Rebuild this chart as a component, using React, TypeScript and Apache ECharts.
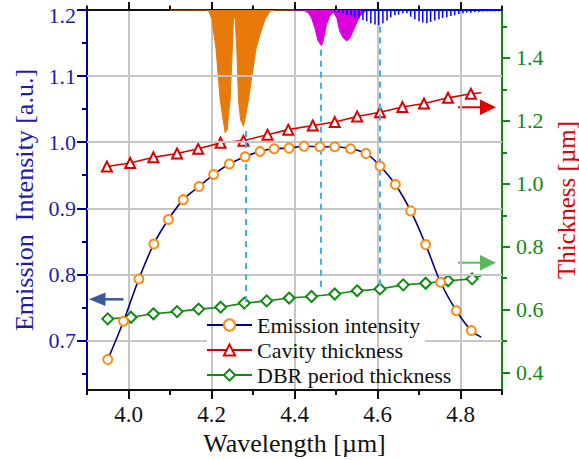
import React, { useEffect, useRef } from "react";
import * as echarts from "echarts";

const FONT = "'Liberation Serif', 'Times New Roman', serif";

// Axis ranges and tick positions
const waveRange = [3.9, 4.9];
const intensityRange = [0.625, 1.2];
const thicknessRange = [0.345, 1.552];
const xMajorTicks = [4.0, 4.2, 4.4, 4.6, 4.8];
const xMinorTicks = [3.9, 4.1, 4.3, 4.5, 4.7, 4.9];
const intensityTicks = [0.7, 0.8, 0.9, 1.0, 1.1, 1.2];
const intensityMinorTicks = [0.65, 0.75, 0.85, 0.95, 1.05, 1.15];
const thicknessTicks = [0.4, 0.6, 0.8, 1.0, 1.2, 1.4];
const thicknessMinorTicks = [0.5, 0.7, 0.9, 1.1, 1.3, 1.5];

// Horizontal grid levels on the intensity axis
const gridLevels = [0.8, 0.9, 1.0, 1.1];
const gridLevelLegend = 0.7;
const gridLegendGap = [4.189, 4.714];

// Emission intensity vs wavelength [µm, a.u.]
const emission: number[][] = [
  [3.95, 0.671], [3.988, 0.729], [4.025, 0.793], [4.061, 0.846], [4.096, 0.883],
  [4.132, 0.913], [4.17, 0.933], [4.205, 0.951], [4.243, 0.967], [4.281, 0.978],
  [4.317, 0.986], [4.351, 0.99], [4.387, 0.991], [4.423, 0.994], [4.461, 0.993],
  [4.497, 0.993], [4.535, 0.99], [4.572, 0.983], [4.606, 0.964], [4.643, 0.936],
  [4.68, 0.896], [4.716, 0.845], [4.752, 0.788], [4.79, 0.745], [4.826, 0.715],
];
const emissionTail = [4.85, 0.705];

// Cavity thickness vs wavelength [µm, µm]
const cavity: number[][] = [
  [3.948, 1.055], [4.004, 1.066], [4.06, 1.084], [4.117, 1.096], [4.168, 1.111],
  [4.222, 1.13], [4.277, 1.137], [4.335, 1.156], [4.385, 1.172], [4.444, 1.185],
  [4.497, 1.196], [4.551, 1.214], [4.606, 1.227], [4.66, 1.244], [4.712, 1.255],
  [4.77, 1.273], [4.825, 1.286],
];
const cavityTail = [4.85, 1.289];

// DBR period thickness vs wavelength [µm, µm]
const dbr: number[][] = [
  [3.95, 0.571], [4.006, 0.576], [4.06, 0.587], [4.117, 0.594], [4.169, 0.602],
  [4.222, 0.608], [4.279, 0.621], [4.333, 0.628], [4.387, 0.637], [4.441, 0.642],
  [4.497, 0.65], [4.551, 0.66], [4.606, 0.666], [4.662, 0.679], [4.716, 0.684],
  [4.77, 0.692], [4.828, 0.698],
];
const dbrTail = [4.85, 0.708];

// Spectra hanging from the top of the intensity axis
const orangeSpectrum: number[][] = [
  [4.1, 1.2], [4.185, 1.2], [4.193, 1.199], [4.201, 1.186], [4.211, 1.14],
  [4.221, 1.064], [4.228, 1.034], [4.233, 1.014], [4.238, 1.019], [4.242, 1.049],
  [4.245, 1.064], [4.25, 1.14], [4.253, 1.186], [4.254, 1.193], [4.257, 1.186],
  [4.261, 1.14], [4.265, 1.064], [4.27, 1.034], [4.277, 1.024], [4.283, 1.042],
  [4.289, 1.064], [4.298, 1.102], [4.307, 1.14], [4.317, 1.163], [4.329, 1.186],
  [4.341, 1.198], [4.355, 1.2], [4.4, 1.2],
];
const magentaSpectrum: number[][] = [
  [4.39, 1.2], [4.421, 1.2], [4.433, 1.196], [4.441, 1.188], [4.449, 1.173],
  [4.457, 1.153], [4.465, 1.146], [4.469, 1.153], [4.477, 1.178], [4.485, 1.191],
  [4.493, 1.197], [4.502, 1.188], [4.509, 1.168], [4.517, 1.158], [4.526, 1.153],
  [4.534, 1.158], [4.541, 1.168], [4.55, 1.181], [4.558, 1.191], [4.57, 1.198],
  [4.582, 1.2], [4.6, 1.2],
];
const blueComb: number[][] = [
  [4.497, 1.197], [4.507, 1.196], [4.517, 1.195], [4.526, 1.193], [4.536, 1.192],
  [4.545, 1.189], [4.555, 1.187], [4.565, 1.185], [4.574, 1.183], [4.584, 1.18],
  [4.594, 1.178], [4.603, 1.177], [4.613, 1.18], [4.623, 1.184], [4.632, 1.189],
  [4.642, 1.192], [4.651, 1.193], [4.661, 1.195], [4.671, 1.195], [4.68, 1.19],
  [4.69, 1.186], [4.7, 1.183], [4.709, 1.181], [4.719, 1.18], [4.728, 1.182],
  [4.738, 1.184], [4.748, 1.186], [4.757, 1.188], [4.767, 1.189], [4.777, 1.191],
  [4.786, 1.192], [4.796, 1.194], [4.806, 1.195], [4.815, 1.196], [4.825, 1.196],
  [4.834, 1.197], [4.844, 1.197], [4.853, 1.198], [4.863, 1.198], [4.873, 1.198],
  [4.882, 1.198], [4.892, 1.198],
];
const blueBase = [[4.56, 1.2], [4.9, 1.2]];

// Guide lines linking spectral dips to the curves (wavelength, top, bottom)
const guideX = [4.283, 4.464, 4.606];
const guideTop = [1.017, 1.14, 1.175];
const guideBottom = [0.749, 0.781, 0.778];

const seriesNames = ["Emission intensity", "Cavity thickness", "DBR period thickness"];

const C_NAVY = "#000080";
const C_ORANGE = "#ff8a10";
const C_RED = "#e00000";
const C_GREEN = "#108a10";
const C_LEFT = "#0000a0";
const C_LEFT_TEXT = "#1c1cae";
const C_GRID = "#c6c6c6";

function tickAxis(position: string, ticks: number[], length: number, range: number[], extra: any = {}) {
  return {
    type: "value",
    position,
    min: range[0],
    max: range[1],
    axisLine: { show: false, onZero: false },
    axisTick: { show: true, customValues: ticks, length, lineStyle: { width: 2, color: "#111" } },
    axisLabel: { show: false },
    splitLine: { show: false },
    ...extra,
  };
}

export default function App() {
  const ref = useRef<HTMLDivElement>(null);

  useEffect(() => {
    document.body.style.margin = "0";
    if (!ref.current) return;
    const chart = echarts.init(ref.current, null, { renderer: "svg" });

    const fmt = (v: number) => v.toFixed(1);
    // the top label sits a little below its tick so it stays inside the frame
    const fmtIntensity = (v: number) =>
      v >= intensityRange[1] - 1e-9 ? `{top|${v.toFixed(1)}}` : v.toFixed(1);

    const option: any = {
      animation: false,
      backgroundColor: "#ffffff",
      grid: { left: 87, right: 77, top: 10, bottom: 70, containLabel: false, outerBoundsMode: "none" },
      legend: {
        data: seriesNames,
        orient: "vertical",
        left: 206,
        top: 314,
        padding: 0,
        itemGap: 3,
        itemWidth: 45,
        itemHeight: 14,
        selectedMode: false,
        textStyle: { fontFamily: FONT, fontSize: 22, color: "#111", lineHeight: 22 },
      },
      xAxis: [
        {
          type: "value",
          position: "bottom",
          min: waveRange[0],
          max: waveRange[1],
          axisLine: { show: true, onZero: false, lineStyle: { color: "#111", width: 2 } },
          axisTick: { show: true, customValues: xMajorTicks, length: 9, lineStyle: { color: "#111", width: 2 } },
          axisLabel: {
            show: true,
            customValues: xMajorTicks,
            formatter: fmt,
            color: "#111",
            fontFamily: FONT,
            fontSize: 23,
            margin: 13,
          },
          splitLine: { show: true, lineStyle: { color: C_GRID, width: 2 } },
          name: "Wavelength [µm]",
          nameLocation: "middle",
          nameGap: 38,
          nameTextStyle: { fontFamily: FONT, fontSize: 26, color: "#111" },
        },
        tickAxis("bottom", xMinorTicks, 5, waveRange),
        tickAxis("top", xMajorTicks, 8, waveRange, {
          axisLine: { show: true, onZero: false, lineStyle: { color: "#111", width: 2 } },
        }),
        tickAxis("top", xMinorTicks, 4.5, waveRange),
      ],
      yAxis: [
        {
          type: "value",
          position: "left",
          min: intensityRange[0],
          max: intensityRange[1],
          axisLine: { show: true, onZero: false, lineStyle: { color: C_LEFT, width: 2 } },
          axisTick: { show: true, customValues: intensityTicks, length: 10, lineStyle: { color: C_LEFT, width: 2 } },
          axisLabel: {
            show: true,
            customValues: intensityTicks,
            formatter: fmtIntensity,
            color: C_LEFT_TEXT,
            fontFamily: FONT,
            fontSize: 22,
            margin: 11,
            rich: {
              top: { color: C_LEFT_TEXT, fontFamily: FONT, fontSize: 22, padding: [10, 0, 0, 0] },
            },
          },
          splitLine: { show: false },
          name: "Emission  Intensity [a.u.]",
          nameLocation: "middle",
          nameRotate: 90,
          nameGap: 50,
          nameTextStyle: { fontFamily: FONT, fontSize: 26, color: C_LEFT_TEXT },
        },
        tickAxis("left", intensityMinorTicks, 5, intensityRange, {
          axisTick: { show: true, customValues: intensityMinorTicks, length: 5, lineStyle: { width: 2, color: C_LEFT } },
        }),
        {
          type: "value",
          position: "right",
          min: thicknessRange[0],
          max: thicknessRange[1],
          axisLine: { show: true, onZero: false, lineStyle: { color: C_GREEN, width: 2 } },
          axisTick: { show: true, customValues: thicknessTicks, length: 8, lineStyle: { color: C_GREEN, width: 2 } },
          axisLabel: {
            show: true,
            customValues: thicknessTicks,
            formatter: fmt,
            color: C_GREEN,
            fontFamily: FONT,
            fontSize: 22,
            margin: 14,
          },
          splitLine: { show: false },
          name: "Thickness [µm]",
          nameLocation: "middle",
          nameRotate: 90,
          nameGap: 44,
          nameTextStyle: { fontFamily: FONT, fontSize: 25, color: C_RED },
        },
        tickAxis("right", thicknessMinorTicks, 5, thicknessRange, {
          axisTick: { show: true, customValues: thicknessMinorTicks, length: 5, lineStyle: { width: 2, color: C_GREEN } },
        }),
      ],
      graphic: [
        // arrow pointing to the intensity axis
        { type: "line", shape: { x1: 104, y1: 299.3, x2: 123.5, y2: 299.3 }, style: { stroke: "#3a5a9c", lineWidth: 2.5 } },
        { type: "polygon", shape: { points: [[89, 299.3], [105.5, 292.5], [105.5, 306]] }, style: { fill: "#3a5a9c" } },
        // arrows pointing to the thickness axis
        { type: "line", shape: { x1: 458, y1: 107.3, x2: 482, y2: 107.3 }, style: { stroke: C_RED, lineWidth: 2 } },
        { type: "polygon", shape: { points: [[496, 107.3], [480, 99.5], [480, 115]] }, style: { fill: C_RED } },
        { type: "line", shape: { x1: 458, y1: 262.7, x2: 482, y2: 262.7 }, style: { stroke: "#5cb85c", lineWidth: 2 } },
        { type: "polygon", shape: { points: [[496, 262.7], [480, 255], [480, 270.5]] }, style: { fill: "#5cb85c" } },
      ],
      series: [
        {
          // horizontal grid lines
          type: "line",
          data: [],
          z: 1,
          silent: true,
          xAxisIndex: 0,
          yAxisIndex: 0,
          markLine: {
            silent: true,
            symbol: ["none", "none"],
            label: { show: false },
            lineStyle: { color: C_GRID, width: 2, type: "solid" },
            data: [
              ...gridLevels.map((v) => [{ coord: [waveRange[0], v] }, { coord: [waveRange[1], v] }]),
              [{ coord: [waveRange[0], gridLevelLegend] }, { coord: [gridLegendGap[0], gridLevelLegend] }],
              [{ coord: [gridLegendGap[1], gridLevelLegend] }, { coord: [waveRange[1], gridLevelLegend] }],
            ],
          },
        },
        {
          type: "line",
          data: orangeSpectrum,
          xAxisIndex: 0,
          yAxisIndex: 0,
          symbol: "none",
          silent: true,
          z: 2,
          lineStyle: { color: "#e87a0c", width: 1 },
          areaStyle: { origin: "end", color: "#e87a0c", opacity: 1 },
        },
        {
          type: "line",
          data: magentaSpectrum,
          xAxisIndex: 0,
          yAxisIndex: 0,
          symbol: "none",
          silent: true,
          z: 2,
          lineStyle: { color: "#dd00dd", width: 1 },
          areaStyle: { origin: "end", color: "#dd00dd", opacity: 1 },
        },
        {
          type: "line",
          data: blueBase,
          xAxisIndex: 0,
          yAxisIndex: 0,
          symbol: "none",
          silent: true,
          z: 2,
          lineStyle: { color: "#0000ff", width: 2 },
        },
        {
          type: "custom",
          data: blueComb,
          xAxisIndex: 0,
          yAxisIndex: 0,
          silent: true,
          clip: true,
          z: 2,
          encode: { x: 0, y: 1 },
          renderItem: (_params: any, api: any) => {
            const x = api.value(0);
            const v = api.value(1);
            const p0 = api.coord([x, intensityRange[1]]);
            const p1 = api.coord([x, v]);
            return {
              type: "line",
              shape: { x1: p0[0], y1: p0[1], x2: p1[0], y2: p1[1] },
              style: { stroke: "#0000ff", lineWidth: 1.5 },
            };
          },
        },
        {
          // dashed guides
          type: "line",
          data: [],
          z: 3,
          silent: true,
          xAxisIndex: 0,
          yAxisIndex: 0,
          markLine: {
            silent: true,
            symbol: ["none", "none"],
            label: { show: false },
            lineStyle: { color: "#3bb6e6", width: 2, type: [6, 5] },
            data: guideX.map((x, i) => [{ coord: [x, guideTop[i]] }, { coord: [x, guideBottom[i]] }]),
          },
        },
        {
          name: seriesNames[0],
          type: "line",
          data: [...emission, { value: emissionTail, symbol: "none" }],
          xAxisIndex: 0,
          yAxisIndex: 0,
          smooth: 0.35,
          z: 5,
          symbol: "circle",
          symbolSize: 9,
          lineStyle: { color: C_NAVY, width: 1.6 },
          itemStyle: { color: "#ffffff", borderColor: C_ORANGE, borderWidth: 2 },
        },
        {
          name: seriesNames[1],
          type: "line",
          data: [...cavity, { value: cavityTail, symbol: "none" }],
          xAxisIndex: 0,
          yAxisIndex: 2,
          z: 4,
          symbol: "triangle",
          symbolSize: 10,
          lineStyle: { color: C_RED, width: 1.6 },
          itemStyle: { color: "#ffffff", borderColor: C_RED, borderWidth: 2 },
        },
        {
          name: seriesNames[2],
          type: "line",
          data: [...dbr, { value: dbrTail, symbol: "none" }],
          xAxisIndex: 0,
          yAxisIndex: 2,
          z: 4,
          symbol: "diamond",
          symbolSize: 11,
          lineStyle: { color: C_GREEN, width: 1.6 },
          itemStyle: { color: "#ffffff", borderColor: C_GREEN, borderWidth: 2 },
        },
      ],
    };

    chart.setOption(option);
    return () => chart.dispose();
  }, []);

  return <div ref={ref} style={{ width: 579, height: 460 }} />;
}
